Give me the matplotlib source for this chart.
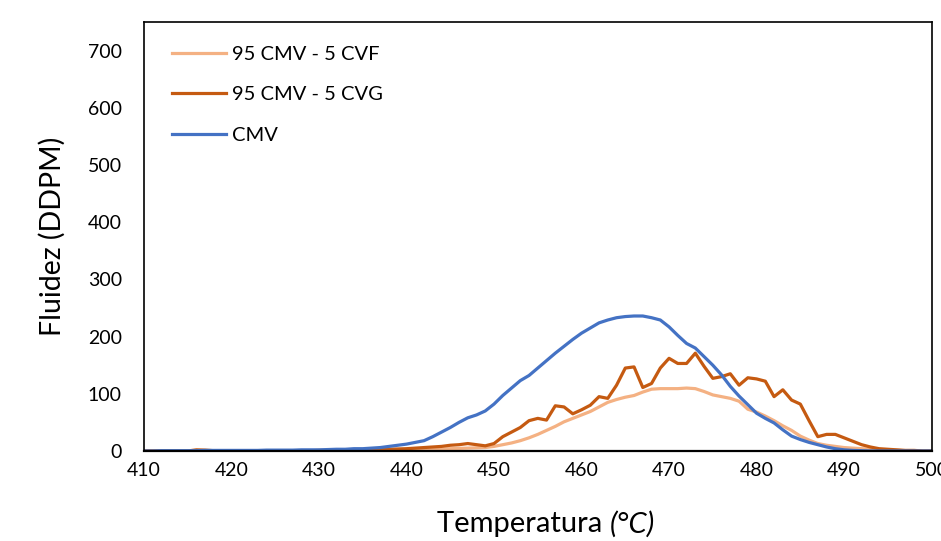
import numpy as np
import matplotlib.pyplot as plt
from matplotlib import font_manager as fm

plt.rcParams['font.family'] = ['Lato', 'DejaVu Sans']

### Temperatures (°C), one reading per degree
temp = np.arange(410, 501)

### Fluidity values
cmv = [0, 0, 0.5, 0.5, 0.5, 0.5, 0.5, 1, 1, 1,
       1, 1, 1, 1, 1.5, 1.5, 1.5, 1.5, 2, 2,
       2, 2.5, 3, 3, 4, 4, 5, 6, 8, 10,
       12, 15, 18, 25, 33, 41, 50, 58, 63, 70,
       82, 97, 110, 123, 132, 145, 158, 171, 183, 195,
       206, 215, 224, 229, 233, 235, 236, 236, 233, 229,
       217, 202, 188, 180, 165, 150, 133, 113, 96, 81,
       66, 57, 49, 37, 26, 20, 15, 11, 7, 4,
       2, 1, 0.5, 0, 0, 0, 0, 0, 0, 0,
       0]
cvf = [0, 0, 0, 0, 0, 0, 0.5, 0.5, 0.5, 0.5,
       0.5, 0.5, 0.5, 0.5, 0.5, 0.5, 0.5, 0.5, 0.5, 0.5,
       0.5, 0.5, 1, 1, 1, 1, 1, 1.5, 1.5, 1.5,
       2, 2, 2.5, 3, 3.5, 4, 4.5, 5, 5.5, 6,
       8, 11, 14, 18, 23, 29, 36, 43, 51, 57,
       63, 69, 77, 85, 90, 94, 97, 103, 108, 109,
       109, 109, 110, 109, 104, 98, 95, 92, 87, 73,
       68, 61, 53, 44, 36, 26, 19, 13, 10, 8,
       6, 5, 4, 3, 2, 1, 1, 0.5, 0, 0,
       0]
cvg = [0, 0, 0, 0, 0, 0, 2, 1.5, 0.5, 0.5,
       0.5, 0.5, 0.5, 0.5, 0.5, 0.5, 0.5, 0.5, 0.5, 0.5,
       1, 1, 1, 1, 1.5, 1.5, 2, 2.5, 3, 3.5,
       4, 5, 6, 7, 8, 10, 11, 13, 11, 9,
       13, 25, 33, 41, 53, 57, 54, 79, 77, 65,
       72, 80, 95, 92, 115, 145, 147, 111, 118, 145,
       162, 153, 153, 171, 148, 127, 130, 135, 115, 128,
       126, 122, 95, 107, 89, 82, 53, 25, 29, 29,
       23, 17, 11, 7, 4, 3, 2, 1, 1, 0,
       0]

### pick a family that really has an italic face for the "(°C)" part
italic_fams = {f.name for f in fm.fontManager.ttflist if f.style == 'italic'}
ital_family = 'DejaVu Sans'
for name in ['Lato', 'Open Sans', 'Noto Sans', 'Roboto', 'Liberation Sans']:
    if name in italic_fams:
        ital_family = name
        break

fig = plt.figure(figsize=(9.41, 5.41), dpi=100)
ax = fig.add_axes([0.153, 0.1664, 0.837, 0.7929])

ax.plot(temp, cvf, color='#F4B183', lw=2.3, label='95 CMV - 5 CVF')
ax.plot(temp, cvg, color='#C55A11', lw=2.3, label='95 CMV - 5 CVG')
ax.plot(temp, cmv, color='#4472C4', lw=2.3, label='CMV')

ax.set_xlim(410, 500)
ax.set_ylim(0, 750)
ax.set_xticks(np.arange(410, 501, 10))
ax.set_yticks(np.arange(0, 701, 100))
ax.tick_params(axis='both', length=0, labelsize=14)
ax.tick_params(axis='x', pad=8)
ax.tick_params(axis='y', pad=16)

for s in ax.spines.values():
    s.set_color('black')
    s.set_linewidth(1.2)
ax.spines['bottom'].set_linewidth(1.6)

### x label: plain part + italic unit
t1 = fig.text(0.4644, 0.016, 'Temperatura ', fontsize=21, va='baseline', ha='left')
ax.annotate('(°C)', xy=(1, 0), xycoords=t1, va='bottom', ha='left',
            fontsize=21, style='italic', family=ital_family)
ax.set_ylabel('Fluidez (DDPM)', fontsize=20.5, labelpad=16)

ax.legend(loc='upper left', bbox_to_anchor=(0.035, 0.945), frameon=False,
          fontsize=14.5, handlelength=2.7, handletextpad=0.28,
          labelspacing=1.17, borderpad=0, borderaxespad=0)

fig.savefig('out.png', dpi=100)
